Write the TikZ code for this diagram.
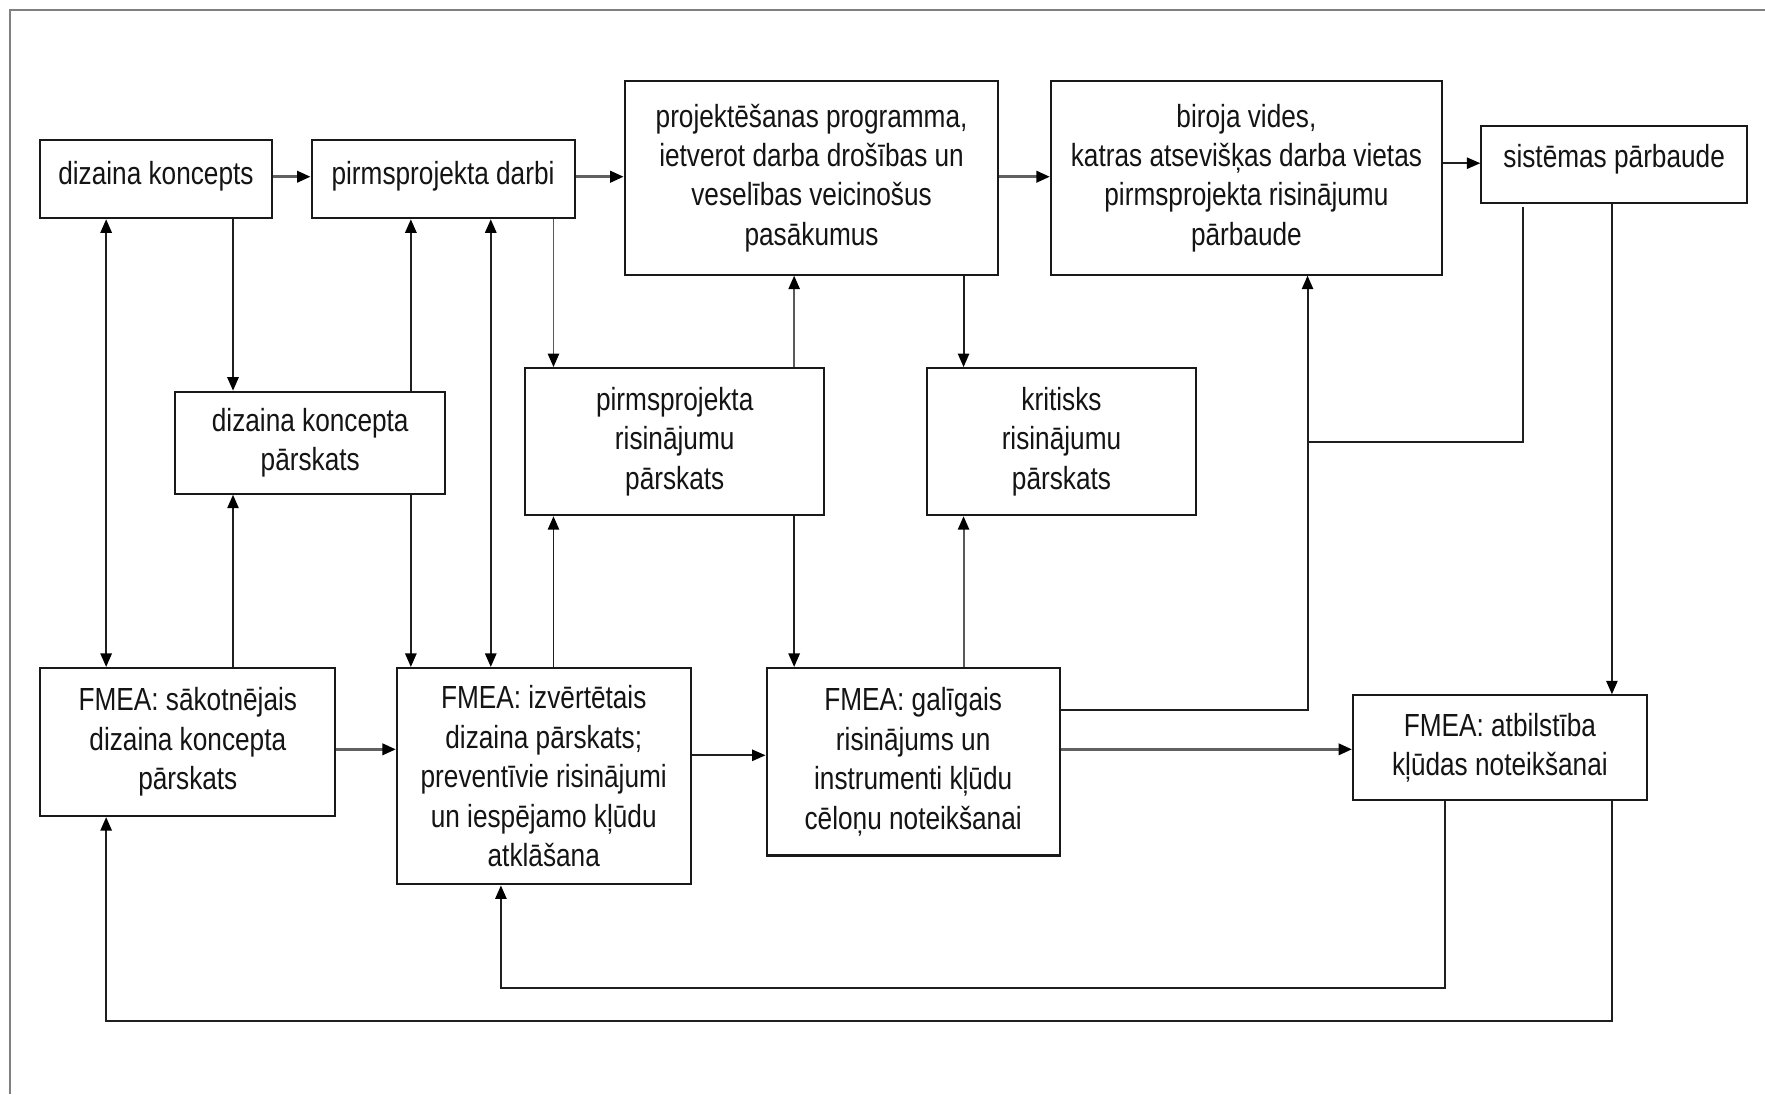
\documentclass[tikz,border=0pt]{standalone}
\usepackage{fontspec}
\setmainfont{Liberation Sans}[FakeStretch=0.82]
\usetikzlibrary{arrows.meta}

% a block given by its corners (x1,y1) and (x2,y2), y running downwards
\newcommand\blocknode[7][]{%
  \pgfmathsetmacro\blkw{(#5-#3)*0.5}%
  \pgfmathsetmacro\blkh{(#6-#4)*0.5}%
  \node[blk, minimum width=\blkw pt, minimum height=\blkh pt, #1] (#2)
    at ({(#3+#5)/2},{(#4+#6)/2}) {#7};}

\begin{document}
\begin{tikzpicture}[x=0.5pt, y=-0.5pt,
  blk/.style={draw=black!90, line width=0.9pt, fill=white, inner sep=0pt,
    align=center, text=black!92, font=\fontsize{14.2}{17.5}\selectfont},
  raised/.style={text height=12.5pt, text depth=#1},
  tip/.tip={Triangle[length=6pt, width=5pt, color=black]},
  conn/.style={draw=black!88, line width=0.85pt},
  arr/.style={conn, -tip},
  arrboth/.style={conn, tip-tip},
  heavy/.style={draw=black!62, line width=1.3pt, -tip},
  soft/.style={draw=black!65, line width=0.85pt, -tip},
  frame/.style={draw=black!50, line width=0.9pt}]

\useasboundingbox (0,0) rectangle (1568,972);
\fill[white] (0,0) rectangle (1568,972);
\draw[frame] (9,972) -- (9,9) -- (1568,9);

% top row
\blocknode[raised=7.5pt]{A}{35.7}{124.4}{241.4}{193.9}{dizaina koncepts}
\blocknode[raised=7.5pt]{B}{276.8}{124.4}{510.4}{193.9}{pirmsprojekta darbi}
\blocknode{C}{555}{72}{887}{244}{projektēšanas programma,\\ietverot darba drošības un\\veselības veicinošus\\pasākumus}
\blocknode{D}{933.6}{72}{1281}{244}{biroja vides,\\katras atsevišķas darba vietas\\pirmsprojekta risinājumu\\pārbaude}
\blocknode[raised=9.5pt]{E}{1316}{112}{1552}{180}{sistēmas pārbaude}

% review row
\blocknode{F}{155.8}{348}{395.4}{438.6}{dizaina koncepta\\pārskats}
\blocknode{G}{466.8}{327}{732}{457.7}{pirmsprojekta\\risinājumu\\pārskats}
\blocknode{H}{823.5}{327}{1062.5}{457.7}{kritisks\\risinājumu\\pārskats}

% FMEA row
\blocknode{I}{35.7}{593.4}{298}{725}{FMEA: sākotnējais\\dizaina koncepta\\pārskats}
\blocknode{J}{352.6}{593.4}{613.5}{785.7}{FMEA: izvērtētais\\dizaina pārskats;\\preventīvie risinājumi\\un iespējamo kļūdu\\atklāšana}
\blocknode{K}{681}{593.4}{941.5}{760}{FMEA: galīgais\\risinājums un\\instrumenti kļūdu\\cēloņu noteikšanai}
\blocknode{L}{1202}{617.7}{1463}{710.6}{FMEA: atbilstība\\kļūdas noteikšanai}

% columns and rows used by the connectors
\coordinate (c1) at (94.3,0);
\coordinate (c2) at (207,0);
\coordinate (c3) at (365,0);
\coordinate (c4) at (436,0);
\coordinate (c5) at (491.7,0);
\coordinate (c6) at (705.5,0);
\coordinate (c7) at (856,0);
\coordinate (c8) at (1161.6,0);
\coordinate (c9) at (1353,0);
\coordinate (c10) at (1432,0);
\coordinate (c11) at (1284,0);
\coordinate (c12) at (445,0);
\coordinate (r1) at (0,157);
\coordinate (r2) at (0,145);
\coordinate (r3) at (0,665.7);
\coordinate (r4) at (0,671);
\coordinate (r5) at (0,631);
\coordinate (r6) at (0,392.4);
\coordinate (r7) at (0,877.5);
\coordinate (r8) at (0,907);

% top row flow
\draw[heavy] (A.east |- r1) -- (B.west |- r1);
\draw[heavy] (B.east |- r1) -- (C.west |- r1);
\draw[heavy] (C.east |- r1) -- (D.west |- r1);
\draw[arr] (D.east |- r2) -- (E.west |- r2);

% verticals on the left
\draw[arrboth] (A.south -| c1) -- (I.north -| c1);
\draw[arr] (A.south -| c2) -- (F.north -| c2);
\draw[arr] (I.north -| c2) -- (F.south -| c2);
\draw[arr] (F.north -| c3) -- (B.south -| c3);
\draw[arr] (F.south -| c3) -- (J.north -| c3);
\draw[arrboth] (B.south -| c4) -- (J.north -| c4);
\draw[soft] (B.south -| c5) -- (G.north -| c5);
\draw[arr] (J.north -| c5) -- (G.south -| c5);

% verticals in the middle
\draw[soft] (G.north -| c6) -- (C.south -| c6);
\draw[arr] (G.south -| c6) -- (K.north -| c6);
\draw[arr] (C.south -| c7) -- (H.north -| c7);
\draw[soft] (K.north -| c7) -- (H.south -| c7);

% FMEA row flow
\draw[heavy] (I.east |- r3) -- (J.west |- r3);
\draw[arr] (J.east |- r4) -- (K.west |- r4);
\draw[heavy] (K.east |- r3) -- (L.west |- r3);

% right-hand connections
\draw[arr] (K.east |- r5) -- (c8 |- r5) -- (D.south -| c8);
\draw[conn] ([yshift=-1.5pt]E.south -| c9) -- (c9 |- r6) -- (c8 |- r6);
\draw[arr] (E.south -| c10) -- (L.north -| c10);

% feedback loops along the bottom
\draw[arr] (L.south -| c11) -- (c11 |- r7) -- (c12 |- r7) -- (J.south -| c12);
\draw[arr] (L.south -| c10) -- (c10 |- r8) -- (c1 |- r8) -- (I.south -| c1);

\end{tikzpicture}
\end{document}
